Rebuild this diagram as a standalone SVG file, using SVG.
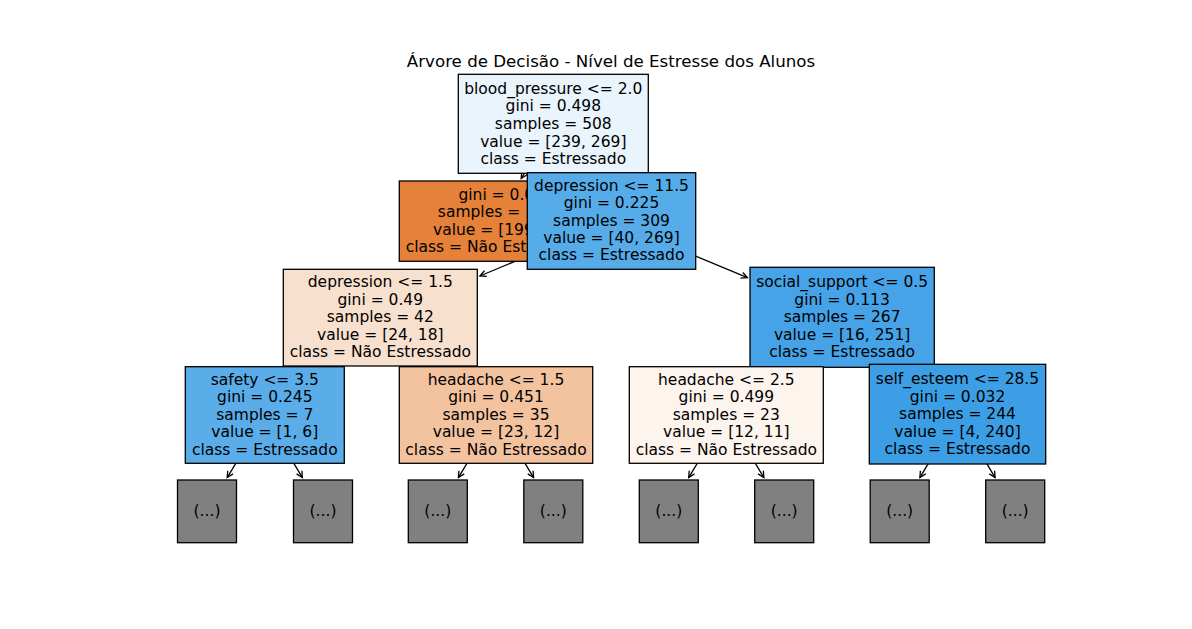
<svg xmlns="http://www.w3.org/2000/svg" width="1192" height="629" viewBox="0 0 1192 629">
<style>
  text { font-family: "DejaVu Sans", "Liberation Sans", sans-serif; fill: #000; }
  .t { font-size: 15.5px; text-anchor: middle; }
  .title { font-size: 16.67px; text-anchor: middle; }
  .box { stroke: #000; stroke-width: 1.3; }
  .leaf { fill: #808080; stroke: #000; stroke-width: 1.3; }
  .edge { fill: none; stroke: #000; stroke-width: 1.3; marker-end: url(#head); }
</style>
<defs>
  <marker id="head" markerUnits="userSpaceOnUse" viewBox="-8 -5 10 10" refX="0" refY="0" markerWidth="10" markerHeight="10" orient="auto" overflow="visible">
    <path d="M-6.2,-3.1 L0,0 L-6.2,3.1" fill="none" stroke="#000" stroke-width="1.3"/>
  </marker>
  <clipPath id="clipOrange">
    <rect x="399" y="181" width="128.3" height="81"/>
  </clipPath>
</defs>
<rect x="0" y="0" width="1192" height="629" fill="#fff"/>
<text class="title" x="611" y="66.7">Árvore de Decisão - Nível de Estresse dos Alunos</text>

<g id="connectors">
  <path class="edge" d="M553.3,123.8 L521.2,178.6"/>
  <path class="edge" d="M553.3,123.8 L581.2,170.3"/>
  <path class="edge" d="M611.5,221 L479.9,276.0"/>
  <path class="edge" d="M611.5,221 L747.4,277.7"/>
  <path class="edge" d="M380.3,317.7 L324.2,364.9"/>
  <path class="edge" d="M380.3,317.7 L436.4,364.9"/>
  <path class="edge" d="M842.1,317.3 L785.6,364.9"/>
  <path class="edge" d="M842.1,317.3 L896.0,362.5"/>
  <path class="edge" d="M264.8,415 L227.2,477.6"/>
  <path class="edge" d="M264.8,415 L302.4,477.6"/>
  <path class="edge" d="M496,415 L458.4,477.6"/>
  <path class="edge" d="M496,415 L533.6,477.6"/>
  <path class="edge" d="M726.3,415 L688.7,477.6"/>
  <path class="edge" d="M726.3,415 L763.9,477.6"/>
  <path class="edge" d="M957.5,414.2 L919.9,477.6"/>
  <path class="edge" d="M957.5,414.2 L995.1,477.6"/>
</g>

<g id="node0">
  <rect class="box" x="458.3" y="74.3" width="190" height="99" fill="#e9f4fc"/>
  <text class="t" x="553.3" y="93.5">blood_pressure &lt;= 2.0</text>
  <text class="t" x="553.3" y="111.2">gini = 0.498</text>
  <text class="t" x="553.3" y="128.9">samples = 508</text>
  <text class="t" x="553.3" y="146.6">value = [239, 269]</text>
  <text class="t" x="553.3" y="164.0">class = Estressado</text>
</g>

<g id="node1">
  <rect class="box" x="399.3" y="181" width="194" height="80.3" fill="#e58139"/>
  <g clip-path="url(#clipOrange)">
    <text class="t" x="496.3" y="199.6">gini = 0.0</text>
    <text class="t" x="496.3" y="217.2">samples = 199</text>
    <text class="t" x="496.3" y="234.8">value = [199, 0]</text>
    <text class="t" x="496.3" y="252.4">class = Não Estressado</text>
  </g>
</g>

<g id="node2">
  <rect class="box" x="527.3" y="172.7" width="168.4" height="96.6" fill="#56ace9"/>
  <text class="t" x="611.5" y="190.6">depression &lt;= 11.5</text>
  <text class="t" x="611.5" y="208.1">gini = 0.225</text>
  <text class="t" x="611.5" y="225.6">samples = 309</text>
  <text class="t" x="611.5" y="243.1">value = [40, 269]</text>
  <text class="t" x="611.5" y="260.4">class = Estressado</text>
</g>

<g id="node3">
  <rect class="box" x="283.3" y="269.3" width="194" height="96.7" fill="#f8e0ce"/>
  <text class="t" x="380.3" y="287.3">depression &lt;= 1.5</text>
  <text class="t" x="380.3" y="304.8">gini = 0.49</text>
  <text class="t" x="380.3" y="322.3">samples = 42</text>
  <text class="t" x="380.3" y="339.8">value = [24, 18]</text>
  <text class="t" x="380.3" y="357.2">class = Não Estressado</text>
</g>

<g id="node4">
  <rect class="box" x="750" y="267.3" width="184.3" height="100" fill="#46a3e7"/>
  <text class="t" x="842.1" y="287.0">social_support &lt;= 0.5</text>
  <text class="t" x="842.1" y="304.5">gini = 0.113</text>
  <text class="t" x="842.1" y="322.0">samples = 267</text>
  <text class="t" x="842.1" y="339.5">value = [16, 251]</text>
  <text class="t" x="842.1" y="357.0">class = Estressado</text>
</g>

<g id="node5">
  <rect class="box" x="185.3" y="366.7" width="159" height="96.6" fill="#5aade9"/>
  <text class="t" x="264.8" y="384.6">safety &lt;= 3.5</text>
  <text class="t" x="264.8" y="402.1">gini = 0.245</text>
  <text class="t" x="264.8" y="419.6">samples = 7</text>
  <text class="t" x="264.8" y="437.1">value = [1, 6]</text>
  <text class="t" x="264.8" y="454.5">class = Estressado</text>
</g>

<g id="node6">
  <rect class="box" x="399.3" y="366.7" width="193.4" height="96.6" fill="#f3c3a0"/>
  <text class="t" x="496" y="384.6">headache &lt;= 1.5</text>
  <text class="t" x="496" y="402.1">gini = 0.451</text>
  <text class="t" x="496" y="419.6">samples = 35</text>
  <text class="t" x="496" y="437.1">value = [23, 12]</text>
  <text class="t" x="496" y="454.5">class = Não Estressado</text>
</g>

<g id="node7">
  <rect class="box" x="629.3" y="366.7" width="194" height="96.6" fill="#fdf4ee"/>
  <text class="t" x="726.3" y="384.6">headache &lt;= 2.5</text>
  <text class="t" x="726.3" y="402.1">gini = 0.499</text>
  <text class="t" x="726.3" y="419.6">samples = 23</text>
  <text class="t" x="726.3" y="437.1">value = [12, 11]</text>
  <text class="t" x="726.3" y="454.5">class = Não Estressado</text>
</g>

<g id="node8">
  <rect class="box" x="869.3" y="364.3" width="176.4" height="99.7" fill="#3c9fe5"/>
  <text class="t" x="957.5" y="384.0">self_esteem &lt;= 28.5</text>
  <text class="t" x="957.5" y="401.5">gini = 0.032</text>
  <text class="t" x="957.5" y="419.0">samples = 244</text>
  <text class="t" x="957.5" y="436.5">value = [4, 240]</text>
  <text class="t" x="957.5" y="454.0">class = Estressado</text>
</g>

<g id="leaf1"><rect class="leaf" x="177.5" y="480" width="59" height="62.7"/><text class="t" x="207" y="516">(...)</text></g>
<g id="leaf2"><rect class="leaf" x="293.5" y="480" width="59" height="62.7"/><text class="t" x="323" y="516">(...)</text></g>
<g id="leaf3"><rect class="leaf" x="408.3" y="480" width="59" height="62.7"/><text class="t" x="437.8" y="516">(...)</text></g>
<g id="leaf4"><rect class="leaf" x="523.8" y="480" width="59" height="62.7"/><text class="t" x="553.3" y="516">(...)</text></g>
<g id="leaf5"><rect class="leaf" x="639.3" y="480" width="59" height="62.7"/><text class="t" x="668.8" y="516">(...)</text></g>
<g id="leaf6"><rect class="leaf" x="754.7" y="480" width="59" height="62.7"/><text class="t" x="784.2" y="516">(...)</text></g>
<g id="leaf7"><rect class="leaf" x="870.2" y="480" width="59" height="62.7"/><text class="t" x="899.7" y="516">(...)</text></g>
<g id="leaf8"><rect class="leaf" x="985.7" y="480" width="59" height="62.7"/><text class="t" x="1015.2" y="516">(...)</text></g>
</svg>
